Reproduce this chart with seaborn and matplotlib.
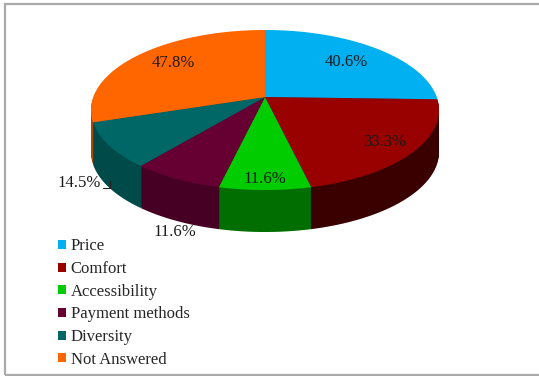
import numpy as np
import matplotlib
matplotlib.use("Agg")
import matplotlib.pyplot as plt
from matplotlib.patches import Patch, Rectangle
from matplotlib.path import Path
from matplotlib.transforms import Transform, Affine2D
import seaborn as sns

sns.set_theme(style="white")
plt.rcParams["font.family"] = ["Liberation Serif", "DejaVu Serif"]

# Survey answers
categories = ["Price", "Comfort", "Accessibility", "Payment methods", "Diversity", "Not Answered"]
shares = [40.6, 33.3, 11.6, 11.6, 14.5, 47.8]

top_colors = ["#00B0F0", "#990000", "#00CC00", "#660033", "#006666", "#FF6600"]
side_colors = ["#0078A8", "#3A0000", "#006E00", "#450024", "#004A4A", "#B04600"]

# Label placement: radial distance (pie radii) and extra pixel shift
label_dist = [0.70, 0.85, 0.92, 1.10, 1.20, 0.70]
label_shift = [(1, 0), (-4, -1), (0, -2), (9, 43), (5, 27), (-1, -4)]

W, H = 539, 376
depth_px = 42


class TiltedDisc(Transform):
    """Perspective view of a flat disc lying on a table (pie units -> pixels)."""
    input_dims = 2
    output_dims = 2
    is_separable = False
    has_inverse = False

    def __init__(self, cx, cy, a, b, p):
        super().__init__()
        self.cx, self.cy, self.a, self.b, self.p = cx, cy, a, b, p

    def transform_non_affine(self, values):
        values = np.asarray(values, dtype=float)
        u, v = values[:, 0], values[:, 1]
        s = 1.0 + self.p * v
        return np.column_stack([self.cx + self.a * u / s, self.cy - self.b * v / s])

    def transform_path_non_affine(self, path):
        # sample the curves densely so the projected outline stays smooth
        t = np.linspace(0.0, 1.0, 32)
        pts = [np.atleast_2d(seg(t)) for seg, _ in path.iter_bezier()]
        verts = np.vstack(pts)
        verts = np.vstack([verts, verts[:1]])
        return Path(self.transform_non_affine(verts), closed=True)


tilt = TiltedDisc(cx=265, cy=97, a=171.7, b=77.9, p=0.1625)

fig = plt.figure(figsize=(W / 100, H / 100), dpi=100)
fig.patch.set_facecolor("white")
ax = fig.add_axes([0, 0, 1, 1])

# Extruded side: stack of darker copies, deepest first
for k in range(depth_px, 0, -1):
    side, _ = ax.pie(shares, colors=side_colors, startangle=90, counterclock=False,
                     radius=1, wedgeprops=dict(linewidth=0))
    for w in side:
        w.set_transform(tilt + Affine2D().translate(0, k) + ax.transData)

# Top face
wedges, _ = ax.pie(shares, colors=top_colors, startangle=90, counterclock=False,
                   radius=1, wedgeprops=dict(linewidth=0))
for w in wedges:
    w.set_transform(tilt + ax.transData)

# Pixel-like data space, y pointing down
ax.set_aspect("auto")
ax.set_xlim(0, W)
ax.set_ylim(H, 0)
ax.axis("off")

for w, val, d, (dx, dy) in zip(wedges, shares, label_dist, label_shift):
    mid = np.deg2rad((w.theta1 + w.theta2) / 2)
    px, py = tilt.transform_non_affine(np.array([[d * np.cos(mid), d * np.sin(mid)]]))[0]
    ax.text(px + dx, py + dy, f"{val:.1f}%", ha="center", va="center",
            fontsize=12, color="#1a1a1a")

# Small leader for the Diversity label
ax.plot([103, 110, 110], [188, 188, 181], color="#222222", lw=0.8, zorder=5)

# Legend
handles = [Patch(facecolor=c, edgecolor="none") for c in top_colors]
fig.legend(handles, categories, loc="upper left",
           bbox_to_anchor=(50 / W, 1 - 230 / H), frameon=False,
           fontsize=12, handlelength=0.45, handleheight=0.45,
           handletextpad=0.3, labelspacing=0.40, borderpad=0.0)

# Outer frame
fig.add_artist(Rectangle((5 / W, 1 / H), 540 / W, 371 / H,
                         transform=fig.transFigure, fill=False,
                         edgecolor="#AAAAAA", linewidth=1.6))

fig.savefig("out.png", dpi=100)
